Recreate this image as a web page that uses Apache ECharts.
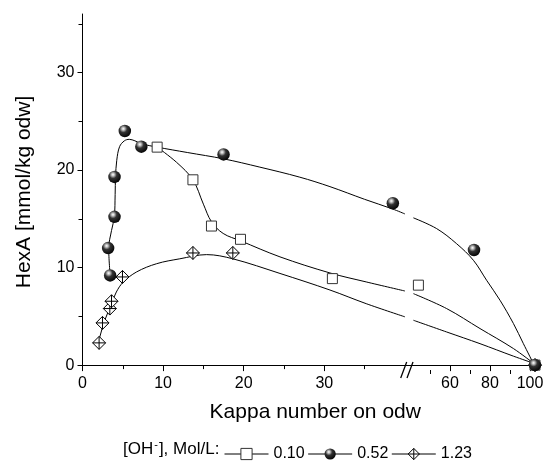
<!DOCTYPE html>
<html><head><meta charset="utf-8">
<script src="https://cdn.jsdelivr.net/npm/echarts@6/dist/echarts.min.js"></script>
<style>html,body{margin:0;padding:0;background:#fff}#c{width:543px;height:466px}</style>
</head><body><div id="c"></div>
<script>
// ---- measured data points (Kappa number, HexA) ----
const kappa010 = [9.26, 13.7, 16.0, 19.6, 31.0, 44.2, 102.5];
const hexa010  = [22.35, 19.0, 14.26, 12.9, 8.87, 8.2, 0];
const kappa052 = [3.43, 3.18, 3.97, 3.97, 5.25, 7.3, 17.5, 38.5, 72, 102.5];
const hexa052  = [9.2, 12.0, 15.2, 19.3, 24.0, 22.4, 21.6, 16.6, 11.8, 0];
const kappa123 = [2.06, 2.48, 3.39, 3.6, 4.96, 13.7, 18.65, 102.5];
const hexa123  = [2.28, 4.33, 5.8, 6.55, 9.04, 11.5, 11.5, 0];

// ---- fitted curves ----
const curveKappa010 = [9.26, 11.66, 13.7, 15.0, 16.0, 17.45, 19.6, 24.5, 30.7, 35.2, 40.0,
                       41.7, 58.3, 75, 91.7, 101.7];
const curveHexa010  = [22.35, 20.8, 19.0, 16.5, 14.7, 13.5, 12.75, 11.1, 9.45, 8.53, 7.6,
                       7.33, 5.8, 3.75, 1.7, 0.2];
const curveKappa052 = [3.43, 3.25, 3.6, 3.95, 4.05, 4.1, 4.25, 4.6, 5.2, 5.8, 6.5, 7.3, 9.26, 13.0, 17.5, 22.0, 26.96, 30.7, 35.0, 38.5, 40.0,
                       41.7, 53.3, 63.3, 71.7, 78.3, 85, 91.7, 96.7, 101.7];
const curveHexa052  = [9.2, 12.0, 13.8, 15.2, 17.5, 19.3, 21.0, 22.4, 23.0, 23.15, 23.0, 22.7, 22.35, 21.8, 21.15, 20.3, 19.27, 18.3, 17.0, 16.0, 15.5,
                       15.1, 14.0, 12.45, 10.75, 8.7, 6.65, 4.27, 2.2, 0.17];
const curveKappa123 = [2.06, 2.15, 2.77, 3.6, 4.2, 5.04, 6.7, 9.2, 12.07, 15.4, 18.65, 24.5, 30.7, 35.2, 40.0,
                       41.7, 58.3, 75, 91.7, 101.7];
const curveHexa123  = [2.28, 2.9, 4.6, 6.3, 7.5, 8.5, 9.55, 10.4, 10.9, 11.33, 10.9, 9.4, 7.7, 6.3, 4.95,
                       4.6, 3.4, 2.2, 0.92, 0.2];

// ---- axis ticks / labels ----
const yLabels = [0, 10, 20, 30];
const yMinor = [5, 15, 25, 35];
const xLabelsLeft = [0, 10, 20, 30];
const xMinorLeft = [5, 15, 25, 35];
const xLabelsRight = [60, 80, 100];
const xMinorRight = [50, 70, 90];
const seriesNames = ['0.10', '0.52', '1.23'];

const LEFT_MAX = 40.63, RIGHT_MIN = 40, RIGHT_MAX = 105;
const Y_MIN = -0.5, Y_MAX = 36;
const FONT = 'Liberation Sans, Arial, Helvetica, sans-serif';

function pairs(xs, ys) { return xs.map((x, i) => [x, ys[i]]); }
function leftPart(p) { return p.filter(d => d[0] <= 40.0001); }
function rightPart(p) { return p.filter(d => d[0] > 40.0001); }

const sphereColor = {
  type: 'radial', x: 0.38, y: 0.32, r: 0.72,
  colorStops: [
    {offset: 0, color: '#ffffff'},
    {offset: 0.16, color: '#c0c0c0'},
    {offset: 0.42, color: '#333333'},
    {offset: 1, color: '#000000'}
  ]
};
const diamondPath = 'path://M10,0 L20,10 L10,20 L0,10 Z M10,0 L10,20 M0,10 L20,10';

const markerStyles = {
  '0.10': {symbol: 'rect', symbolSize: 10, itemStyle: {color: '#fff', borderColor: '#333', borderWidth: 1}, z: 4},
  '0.52': {symbol: 'circle', symbolSize: 12.5, itemStyle: {color: sphereColor, borderWidth: 0}, z: 6},
  '1.23': {symbol: diamondPath, symbolSize: 13, itemStyle: {color: '#fff', borderColor: '#000', borderWidth: 1}, z: 5}
};

const markerData = {
  '0.10': pairs(kappa010, hexa010),
  '0.52': pairs(kappa052, hexa052),
  '1.23': pairs(kappa123, hexa123)
};
const curveData = {
  '0.10': pairs(curveKappa010, curveHexa010),
  '0.52': pairs(curveKappa052, curveHexa052),
  '1.23': pairs(curveKappa123, curveHexa123)
};

const series = [];
seriesNames.forEach(name => {
  [[0, 0, leftPart(curveData[name])], [2, 2, rightPart(curveData[name])]].forEach(([xi, yi, d]) => {
    series.push({
      type: 'line', name: 'curve' + name, xAxisIndex: xi, yAxisIndex: yi,
      data: d, smooth: 0.35, symbol: 'none', silent: true, z: 2,
      lineStyle: {color: '#000', width: 1}
    });
  });
});
seriesNames.forEach(name => {
  const st = markerStyles[name];
  [[0, 0, leftPart(markerData[name])], [2, 2, rightPart(markerData[name])]].forEach(([xi, yi, d]) => {
    series.push({
      type: 'line', name: name, xAxisIndex: xi, yAxisIndex: yi, data: d,
      symbol: st.symbol, symbolSize: st.symbolSize, showSymbol: true,
      itemStyle: st.itemStyle, lineStyle: {width: 0, color: '#000'}, z: st.z, silent: true
    });
  });
});

const axisLineStyle = {lineStyle: {color: '#000', width: 1}};
const labelStyle = {color: '#000', fontSize: 16, fontFamily: FONT};

const option = {
  animation: false,
  backgroundColor: '#fff',
  grid: [
    {left: 82.5, top: 14, width: 327.5, height: 356, outerBoundsMode: 'none', containLabel: false},
    {left: 410, top: 14, width: 130, height: 356, outerBoundsMode: 'none', containLabel: false}
  ],
  xAxis: [
    {gridIndex: 0, type: 'value', position: 'bottom', min: 0, max: LEFT_MAX,
     axisLine: axisLineStyle, splitLine: {show: false},
     axisTick: {customValues: xLabelsLeft, length: 6, lineStyle: {color: '#000'}},
     axisLabel: Object.assign({customValues: xLabelsLeft, margin: 6}, labelStyle)},
    {gridIndex: 0, type: 'value', position: 'bottom', min: 0, max: LEFT_MAX,
     axisLine: {show: false}, splitLine: {show: false},
     axisTick: {customValues: xMinorLeft, length: 4, lineStyle: {color: '#000'}},
     axisLabel: {show: false}},
    {gridIndex: 1, type: 'value', position: 'bottom', min: RIGHT_MIN, max: RIGHT_MAX,
     axisLine: axisLineStyle, splitLine: {show: false},
     axisTick: {customValues: xLabelsRight, length: 6, lineStyle: {color: '#000'}},
     axisLabel: Object.assign({customValues: xLabelsRight, margin: 6}, labelStyle)},
    {gridIndex: 1, type: 'value', position: 'bottom', min: RIGHT_MIN, max: RIGHT_MAX,
     axisLine: {show: false}, splitLine: {show: false},
     axisTick: {customValues: xMinorRight, length: 4, lineStyle: {color: '#000'}},
     axisLabel: {show: false}}
  ],
  yAxis: [
    {gridIndex: 0, type: 'value', position: 'left', min: Y_MIN, max: Y_MAX,
     name: 'HexA [mmol/kg odw]', nameLocation: 'middle', nameGap: 48,
     nameTextStyle: {fontSize: 21, color: '#000', fontFamily: FONT},
     axisLine: {show: true, lineStyle: {color: '#000', width: 1}}, splitLine: {show: false},
     axisTick: {customValues: yLabels, length: 5, lineStyle: {color: '#000'}},
     axisLabel: Object.assign({customValues: yLabels, margin: 8}, labelStyle)},
    {gridIndex: 0, type: 'value', position: 'left', min: Y_MIN, max: Y_MAX,
     axisLine: {show: false}, splitLine: {show: false},
     axisTick: {customValues: yMinor, length: 4, lineStyle: {color: '#000'}},
     axisLabel: {show: false}},
    {gridIndex: 1, type: 'value', min: Y_MIN, max: Y_MAX, show: false}
  ],
  legend: {
    data: seriesNames, left: 219, top: 441, itemWidth: 44, itemHeight: 14, itemGap: 3,
    textStyle: {fontSize: 16, color: '#000', fontFamily: FONT},
    lineStyle: {width: 1, color: '#000', opacity: 1},
    itemStyle: {borderWidth: 1},
    selectedMode: false
  },
  series: series
};

const chart = echarts.init(document.getElementById('c'), null, {renderer: 'canvas'});
chart.setOption(option);

// axis break marks and axis title, placed with the library's own coordinate conversion
const pB = chart.convertToPixel({xAxisIndex: 2, yAxisIndex: 2}, [RIGHT_MIN, Y_MIN]);
const pL = chart.convertToPixel({xAxisIndex: 0, yAxisIndex: 0}, [0, Y_MIN]);
const pR = chart.convertToPixel({xAxisIndex: 2, yAxisIndex: 2}, [RIGHT_MAX, Y_MIN]);
const bx = pB[0], by = pB[1];
chart.setOption({
  graphic: [
    {type: 'rect', shape: {x: bx - 6.5, y: by - 2, width: 6.5, height: 4}, style: {fill: '#fff'}, z: 100},
    {type: 'line', shape: {x1: bx - 9.3, y1: by + 8, x2: bx - 3.3, y2: by - 8}, style: {stroke: '#000', lineWidth: 1.3}, z: 101},
    {type: 'line', shape: {x1: bx - 3, y1: by + 8, x2: bx + 3, y2: by - 8}, style: {stroke: '#000', lineWidth: 1.3}, z: 101},
    {type: 'text', x: (pL[0] + pR[0]) / 2 + 4, y: by + 42, z: 100,
     style: {text: 'Kappa number on odw', fontSize: 21, fontFamily: FONT, fill: '#000', align: 'center', verticalAlign: 'middle'}},
    {type: 'text', x: 123, y: 449, z: 100,
     style: {text: '[OH{sup|-}], Mol/L:', fontSize: 17, fontFamily: FONT, fill: '#000', align: 'left', verticalAlign: 'middle',
             rich: {sup: {fontSize: 11, fontFamily: FONT, fill: '#000', verticalAlign: 'top', padding: [0, 1, 9, 1]}}}}
  ]
});
</script>
</body></html>
